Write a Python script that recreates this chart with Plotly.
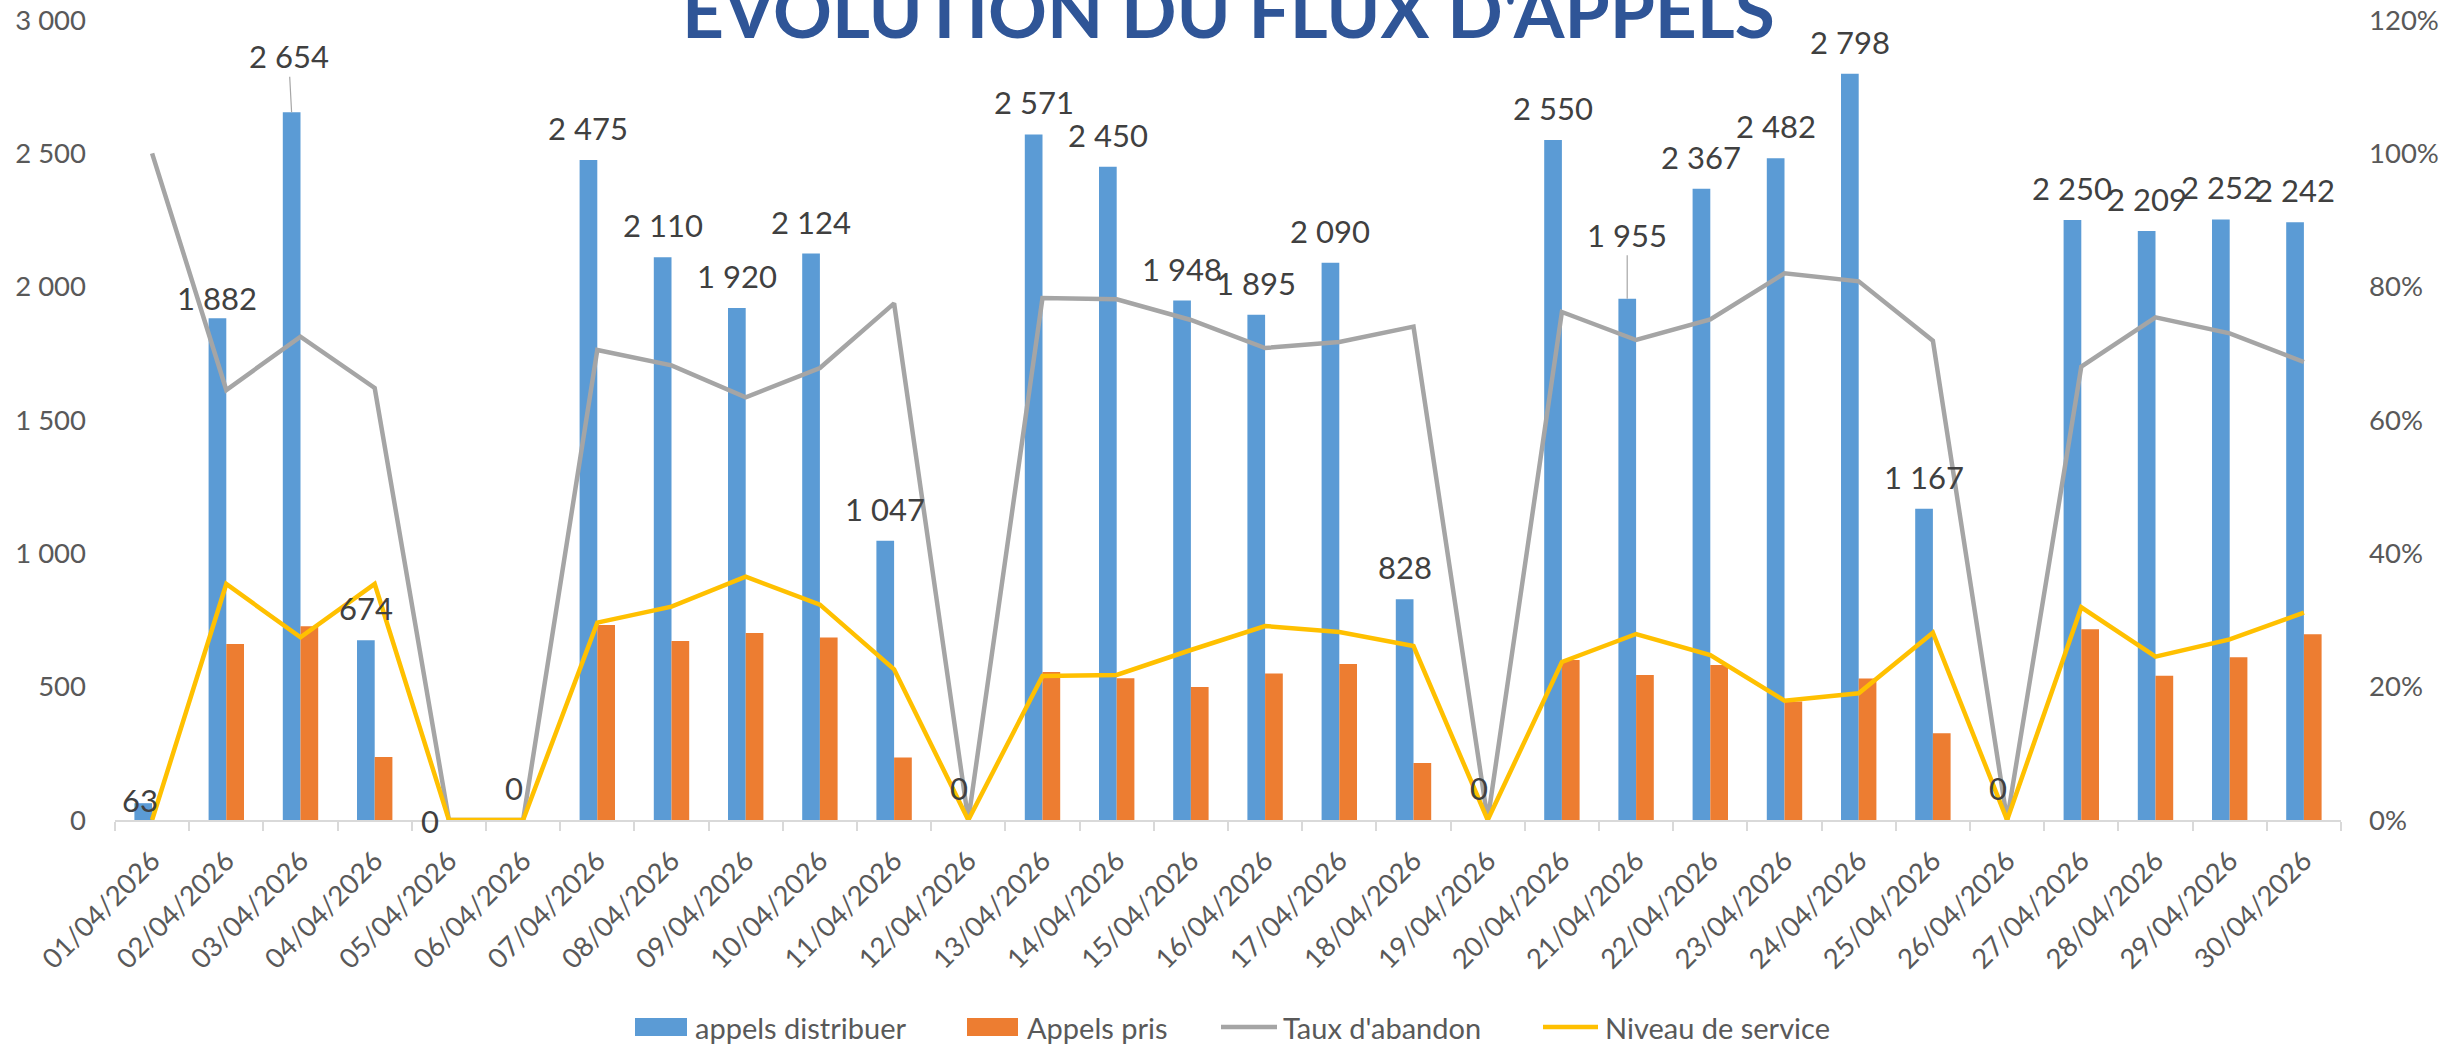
import plotly.graph_objects as go

# ---------------- data ----------------
dates = ["01/04/2026", "02/04/2026", "03/04/2026", "04/04/2026", "05/04/2026",
         "06/04/2026", "07/04/2026", "08/04/2026", "09/04/2026", "10/04/2026",
         "11/04/2026", "12/04/2026", "13/04/2026", "14/04/2026", "15/04/2026",
         "16/04/2026", "17/04/2026", "18/04/2026", "19/04/2026", "20/04/2026",
         "21/04/2026", "22/04/2026", "23/04/2026", "24/04/2026", "25/04/2026",
         "26/04/2026", "27/04/2026", "28/04/2026", "29/04/2026", "30/04/2026"]

appels_distribuer = [63, 1882, 2654, 674, 0, 0, 2475, 2110, 1920, 2124,
                     1047, 0, 2571, 2450, 1948, 1895, 2090, 828, 0, 2550,
                     1955, 2367, 2482, 2798, 1167, 0, 2250, 2209, 2252, 2242]

appels_pris = [0, 660, 727, 236, 0, 0, 731, 671, 701, 684,
               234, 0, 555, 532, 499, 549, 585, 214, 0, 600,
               544, 581, 444, 531, 325, 0, 715, 541, 610, 697]

taux_abandon = [1.00, 0.645, 0.725, 0.648, 0.0, 0.0, 0.705, 0.682, 0.634, 0.678,
                0.775, 0.0, 0.783, 0.781, 0.750, 0.708, 0.717, 0.740, 0.0, 0.762,
                0.720, 0.751, 0.820, 0.808, 0.719, 0.0, 0.680, 0.754, 0.730, 0.687]

niveau_service = [0.0, 0.354, 0.274, 0.354, 0.0, 0.0, 0.296, 0.320, 0.365, 0.323,
                  0.226, 0.0, 0.216, 0.2175, 0.255, 0.291, 0.282, 0.261, 0.0, 0.237,
                  0.279, 0.2475, 0.179, 0.190, 0.281, 0.0, 0.319, 0.245, 0.271, 0.311]

series_names = ["appels distribuer", "Appels pris", "Taux d'abandon", "Niveau de service"]

left_ticks = [0, 500, 1000, 1500, 2000, 2500, 3000]
right_ticks = [0, 0.2, 0.4, 0.6, 0.8, 1.0, 1.2]

title_text = "EVOLUTION DU FLUX D'APPELS"

# ---------------- styles ----------------
W, H = 2453, 1044
ML, MR, MT, MB = 115, 112, 20, 224
PW, PH = W - ML - MR, H - MT - MB

FONT = "Lato, Calibri, Carlito, 'Noto Sans', sans-serif"
AXIS_COL = "#595959"
LABEL_COL = "#404040"
BLUE = "#5B9BD5"
ORANGE = "#ED7D31"
GREY = "#A5A5A5"
YELLOW = "#FFC000"
colors = [BLUE, ORANGE, GREY, YELLOW]

BAR_SHIFT = -8.9      # px offset of the blue bar centre from category centre
LABEL_GAP = 11        # px gap above the bar top
LABEL_SIZE = 31

# special data-label placements (dx, dy in px, leader line?)
label_nudge = {
    "01/04/2026": dict(dx=-3, dy=-29, leader=False),
    "02/04/2026": dict(dx=0, dy=-12, leader=False),
    "03/04/2026": dict(dx=-3, dy=-24, leader=True),
    "05/04/2026": dict(dx=-10, dy=-33, leader=False),
    "21/04/2026": dict(dx=0, dy=-32, leader=True),
}

# custom legend layout (pixel positions in the figure)
legend_items = [  # (symbol kind, x0, x1, text x)
    ("rect", 635, 687, 693),
    ("rect", 967, 1018, 1025),
    ("line", 1221, 1277, 1281),
    ("line", 1543, 1598, 1603),
]
LEG_Y = 1027


def px_x(p):
    return (p - ML) / PW


def px_y(p):
    return (H - MB - p) / PH


def fmt_int(v):
    return f"{v:,}".replace(",", " ")


fig = go.Figure()

fig.add_trace(go.Bar(x=dates, y=appels_distribuer, name=series_names[0],
                     marker=dict(color=BLUE, line=dict(width=0))))
fig.add_trace(go.Bar(x=dates, y=appels_pris, name=series_names[1],
                     marker=dict(color=ORANGE, line=dict(width=0))))
fig.add_trace(go.Scatter(x=dates, y=taux_abandon, name=series_names[2], yaxis="y2",
                         mode="lines", line=dict(color=GREY, width=4.5),
                         cliponaxis=False))
fig.add_trace(go.Scatter(x=dates, y=niveau_service, name=series_names[3], yaxis="y2",
                         mode="lines", line=dict(color=YELLOW, width=4.5),
                         cliponaxis=False))

annotations = []
for d, v in zip(dates, appels_distribuer):
    n = label_nudge.get(d)
    font = dict(family=FONT, size=LABEL_SIZE, color=LABEL_COL)
    if n is None:
        annotations.append(dict(x=d, y=v, xref="x", yref="y", text=fmt_int(v),
                                showarrow=False, xshift=BAR_SHIFT, yshift=LABEL_GAP,
                                yanchor="bottom", font=font))
    elif n["leader"]:
        annotations.append(dict(x=d, y=v, xref="x", yref="y", text=fmt_int(v),
                                showarrow=True, arrowhead=0, arrowwidth=1.2,
                                arrowcolor="#A6A6A6", ax=n["dx"],
                                ay=n["dy"] - 32, xshift=BAR_SHIFT, font=font))
    else:
        annotations.append(dict(x=d, y=v, xref="x", yref="y", text=fmt_int(v),
                                showarrow=False, xshift=BAR_SHIFT + n["dx"],
                                yshift=LABEL_GAP + n["dy"], yanchor="bottom",
                                font=font))

annotations.append(dict(text="<b>" + title_text + "</b>", x=0.5, y=px_y(56),
                        xref="paper", yref="paper", xanchor="center", yanchor="bottom",
                        showarrow=False,
                        font=dict(family=FONT, size=73, color="#2F5597")))

shapes = []
for (kind, x0, x1, tx), name, col in zip(legend_items, series_names, colors):
    if kind == "rect":
        shapes.append(dict(type="rect", xref="paper", yref="paper",
                           x0=px_x(x0), x1=px_x(x1),
                           y0=px_y(LEG_Y + 9), y1=px_y(LEG_Y - 9),
                           fillcolor=col, line=dict(width=0)))
    else:
        shapes.append(dict(type="line", xref="paper", yref="paper",
                           x0=px_x(x0), x1=px_x(x1),
                           y0=px_y(LEG_Y), y1=px_y(LEG_Y),
                           line=dict(color=col, width=4.5)))
    annotations.append(dict(text=name, x=px_x(tx), y=px_y(LEG_Y), xref="paper",
                            yref="paper", xanchor="left", yanchor="middle",
                            showarrow=False,
                            font=dict(family=FONT, size=29, color=AXIS_COL)))

fig.update_layout(
    width=W, height=H, autosize=False,
    margin=dict(l=ML, r=MR, t=MT, b=MB, pad=0, autoexpand=False),
    paper_bgcolor="white", plot_bgcolor="white",
    separators=", ",
    barmode="group", bargap=0.523, bargroupgap=0,
    font=dict(family=FONT, color=AXIS_COL, size=27),
    showlegend=False,
    xaxis=dict(type="category", showgrid=False, zeroline=False, automargin=False,
               showline=True, linecolor="#D9D9D9", linewidth=1.5,
               ticks="outside", tickson="boundaries", ticklen=9, tickwidth=1.5,
               tickcolor="#D9D9D9", tickangle=-45,
               tickfont=dict(family=FONT, size=27.5, color=AXIS_COL),
               ticklabelstandoff=12),
    yaxis=dict(range=[0, 3000], tickvals=left_ticks, separatethousands=True,
               showgrid=False, zeroline=False, showline=False, ticks="",
               automargin=False,
               tickfont=dict(family=FONT, size=27.5, color=AXIS_COL),
               ticklabelstandoff=28),
    yaxis2=dict(range=[0, 1.2], tickvals=right_ticks, tickformat=".0%",
                overlaying="y", side="right", showgrid=False, zeroline=False,
                showline=False, ticks="", automargin=False,
                tickfont=dict(family=FONT, size=27.5, color=AXIS_COL),
                ticklabelstandoff=27),
    annotations=annotations,
    shapes=shapes,
)

fig.write_html(
    "out.html",
    config={"displayModeBar": False, "staticPlot": False},
    post_script="document.body.style.margin='0';document.body.style.padding='0';"
                "document.documentElement.style.overflow='hidden';",
)
